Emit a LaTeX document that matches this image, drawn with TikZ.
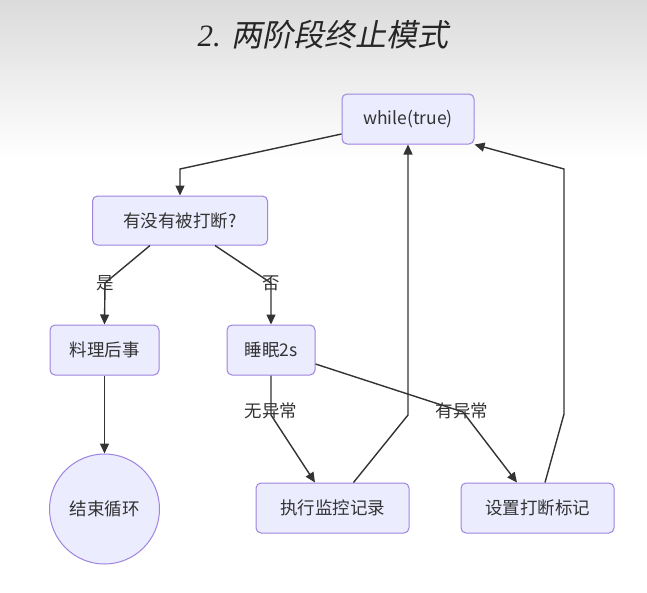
\documentclass[tikz,border=0pt]{standalone}
\usepackage{fontspec}
\setmainfont{Noto Sans CJK SC}
\newfontfamily\titlecjk[FakeSlant=0.2]{Noto Sans CJK SC}
\newfontfamily\titlelat{Liberation Serif}
\usetikzlibrary{arrows.meta}
\definecolor{nodefill}{HTML}{ECECFF}
\definecolor{nodeline}{HTML}{9F84DE}
\definecolor{txt}{HTML}{333333}
\tikzset{
 box/.style={draw=nodeline, fill=nodefill, rounded corners=5pt, line width=1pt, text=txt, font=\fontsize{17.5}{20}\selectfont, inner sep=0pt, minimum height=50pt},
 endcircle/.style={circle, draw=nodeline, fill=nodefill, line width=1pt, text=txt, font=\fontsize{17.5}{20}\selectfont, inner sep=0pt, minimum size=110pt},
 edge/.style={draw=txt, line width=1.4pt, -{Triangle[length=10pt,width=9pt]}},
 lbl/.style={text=txt, font=\fontsize{17.5}{20}\selectfont, inner sep=0pt}
}
\begin{document}
\begin{tikzpicture}[x=1pt,y=-1pt]
\useasboundingbox (0,0) rectangle (647,592);
\fill[white] (0,0) rectangle (647,592);
\shade[top color=gray!28, bottom color=white] (0,0) rectangle (647,160);

\node[text=black!85, inner sep=0pt] (title) at (323,35) {\fontsize{31}{36}\selectfont\titlelat\itshape 2. \titlecjk 两阶段终止模式};

\node[box, minimum width=132pt] (w) at (408,119) {while(true)};
\node[box, minimum width=175pt, minimum height=49pt] (q) at (180,220.5) {有没有被打断?};
\node[box, minimum width=109pt] (a) at (104.5,350) {料理后事};
\node[box, minimum width=88pt] (s) at (271,350) {睡眠2s};
\node[endcircle] (e) at (104.5,509) {结束循环};
\node[box, minimum width=153pt] (m) at (332.5,508) {执行监控记录};
\node[box, minimum width=153pt] (f) at (537.5,508) {设置打断标记};

\node[lbl] (l1) at (105,283) {是};
\node[lbl] (l2) at (271,283) {否};
\node[lbl] (l3) at (271,411) {无异常};
\node[lbl] (l4) at (462,411) {有异常};

\coordinate (b1) at (180,169);
\coordinate (b2) at (408,415);
\coordinate (b3) at (564,414);
\coordinate (b4) at (564,169);
\coordinate (b5) at (271,415);

\draw[edge] ([yshift=-15pt]w.west) -- (b1) -- (q.north);
\draw[edge] ([xshift=-30pt]q.south) -- (l1.center) -- (a.north);
\draw[edge] ([xshift=35pt]q.south) -- (l2.center) -- (s.north);
\draw[edge] (a.south) -- (e.north);
\draw[edge] (s.south) -- (b5) -- ([xshift=-17.5pt]m.north);
\draw[edge] ([yshift=-14pt]s.east) -- (463,412) -- ([xshift=-20.5pt]f.north);
\draw[edge] ([xshift=21pt]m.north) -- (b2) -- (w.south);
\draw[edge] ([xshift=7.5pt]f.north) -- (b3) -- (b4) -- (w.south east);
\end{tikzpicture}
\end{document}
